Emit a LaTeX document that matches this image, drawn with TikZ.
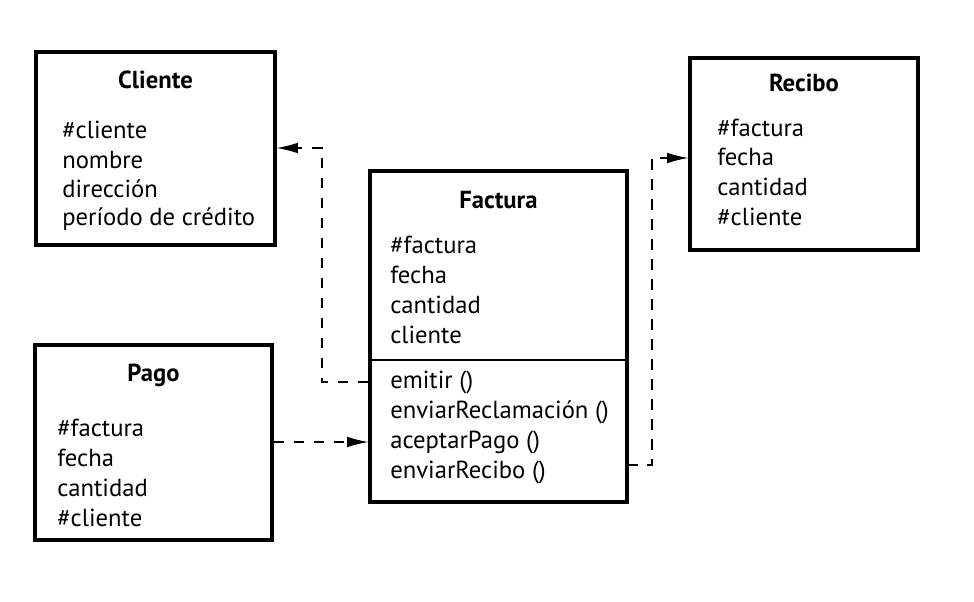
\documentclass[tikz,border=0pt]{standalone}
\usepackage{fontspec}
\setmainfont{PT Sans}
\usetikzlibrary{arrows.meta,fit}
\begin{document}
\begin{tikzpicture}[x=0.75pt,y=-0.75pt,
  classbox/.style={draw=black,line width=2.4pt,inner sep=0pt},
  title/.style={font=\fontsize{18.5}{22}\selectfont\bfseries,anchor=center,inner sep=0pt},
  attr/.style={font=\fontsize{18.5}{22}\selectfont,anchor=west,inner sep=0pt},
  dep/.style={line width=1pt,dash pattern=on 8pt off 7pt,-{Latex[length=16pt,width=8pt]}}]
\useasboundingbox (0,0) rectangle (974,602);
% Cliente
\node[classbox,fit={(36,52) (275,245)}] (cliente) {};
\node[title] (clienteT) at (155.5,80) {Cliente};
\node[attr] (c1) at (62,130) {\#cliente};
\node[attr] (c2) at (62,160) {nombre};
\node[attr] (c3) at (62,189) {dirección};
\node[attr] (c4) at (62,219) {período de crédito};
% Pago
\node[classbox,fit={(35,345) (272,540)}] (pago) {};
\node[title] (pagoT) at (153.5,375) {Pago};
\node[attr] (p1) at (57,428) {\#factura};
\node[attr] (p2) at (57,458) {fecha};
\node[attr] (p3) at (57,488) {cantidad};
\node[attr] (p4) at (57,518) {\#cliente};
% Recibo
\node[classbox,fit={(690,58) (918,250)}] (recibo) {};
\node[title] (reciboT) at (804,83) {Recibo};
\node[attr] (r1) at (717,128) {\#factura};
\node[attr] (r2) at (717,157) {fecha};
\node[attr] (r3) at (717,187) {cantidad};
\node[attr] (r4) at (717,217) {\#cliente};
% Factura
\node[classbox,fit={(370,171) (627,502)}] (factura) {};
\coordinate (div) at (370,360);
\draw[line width=1.4pt] (div) -- (factura.east |- div);
\node[title] (facturaT) at (498.5,200) {Factura};
\node[attr] (f1) at (390,245) {\#factura};
\node[attr] (f2) at (390,275) {fecha};
\node[attr] (f3) at (390,305) {cantidad};
\node[attr] (f4) at (390,335) {cliente};
\node[attr] (m1) at (390,382) {emitir ()};
\node[attr] (m2) at (390,412) {enviarReclamación ()};
\node[attr] (m3) at (390,442) {aceptarPago ()};
\node[attr] (m4) at (390,472) {enviarRecibo ()};
% connectors
\coordinate (k1) at (322,148);
\coordinate (k2) at (652,158);
\draw[dep] (factura.west |- m1) -| (k1) -- (cliente.east |- k1);
\draw[dep] (pago.east |- m3) -- (factura.west |- m3);
\coordinate (k3) at (627,465);
\draw[dep] (k3) -| (k2) -- (recibo.west |- k2);
\end{tikzpicture}
\end{document}
